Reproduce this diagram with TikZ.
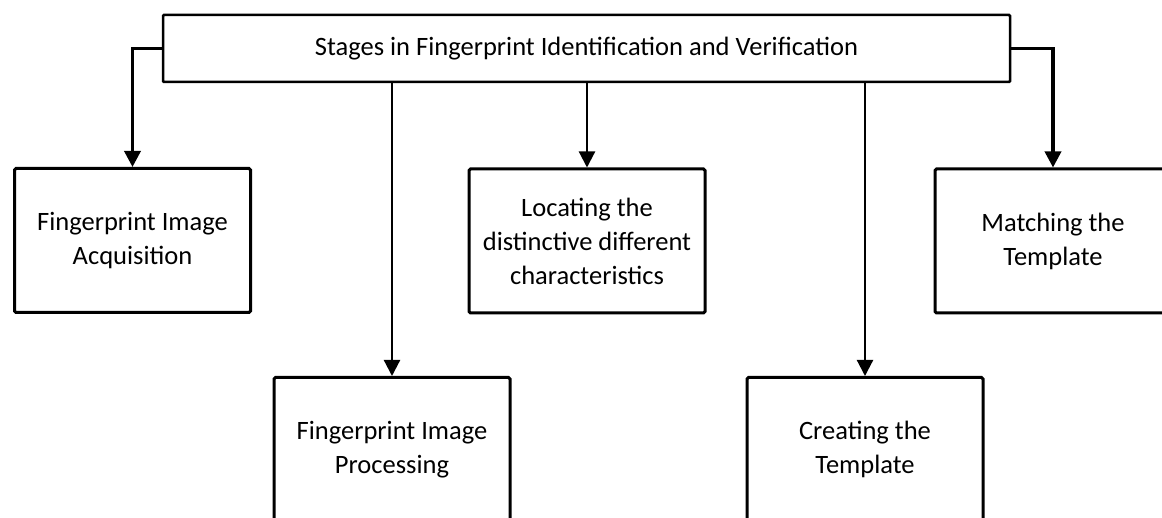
\documentclass[tikz,border=0pt]{standalone}
\usepackage{fontspec}
\setmainfont{Carlito}
\usetikzlibrary{arrows.meta}
\tikzset{
  stagebox/.style={draw, line width=3pt, rounded corners=1.5pt, minimum width=236pt, minimum height=144pt, align=center, inner sep=0pt, font=\fontsize{26.5}{34}\selectfont},
  titlebox/.style={draw, line width=2.5pt, rounded corners=1pt, minimum width=847pt, minimum height=67pt, inner sep=0pt, font=\fontsize{26.5}{30}\selectfont},
  elbow/.style={line width=3.5pt, -{Triangle[width=16pt,length=16pt]}},
  drop/.style={line width=2.2pt, -{Triangle[width=16pt,length=16pt]}}
}
\begin{document}
\begin{tikzpicture}[x=1pt,y=-1pt]
\useasboundingbox (0,0) rectangle (1162,518);
\clip (0,0) rectangle (1162,518);
\fill[white] (0,0) rectangle (1162,518);
\node[titlebox] (top) at (586.5,48.5) {Stages in Fingerprint Identification and Verification};
\node[stagebox] (b1) at (132.5,240.5) {Fingerprint Image\\Acquisition};
\node[stagebox] (b2) at (392,449.5) {Fingerprint Image\\Processing};
\node[stagebox] (b3) at (587,241) {Locating the\\distinctive different\\characteristics};
\node[stagebox] (b4) at (865,449.5) {Creating the\\Template};
\node[stagebox] (b5) at (1053,241) {Matching the\\Template};
\draw[elbow] (top.west) -| (b1.north);
\draw[drop] (top.south -| b2.north) -- (b2.north);
\draw[drop] (top.south -| b3.north) -- (b3.north);
\draw[drop] (top.south -| b4.north) -- (b4.north);
\draw[elbow] (top.east) -| (b5.north);
\end{tikzpicture}
\end{document}
